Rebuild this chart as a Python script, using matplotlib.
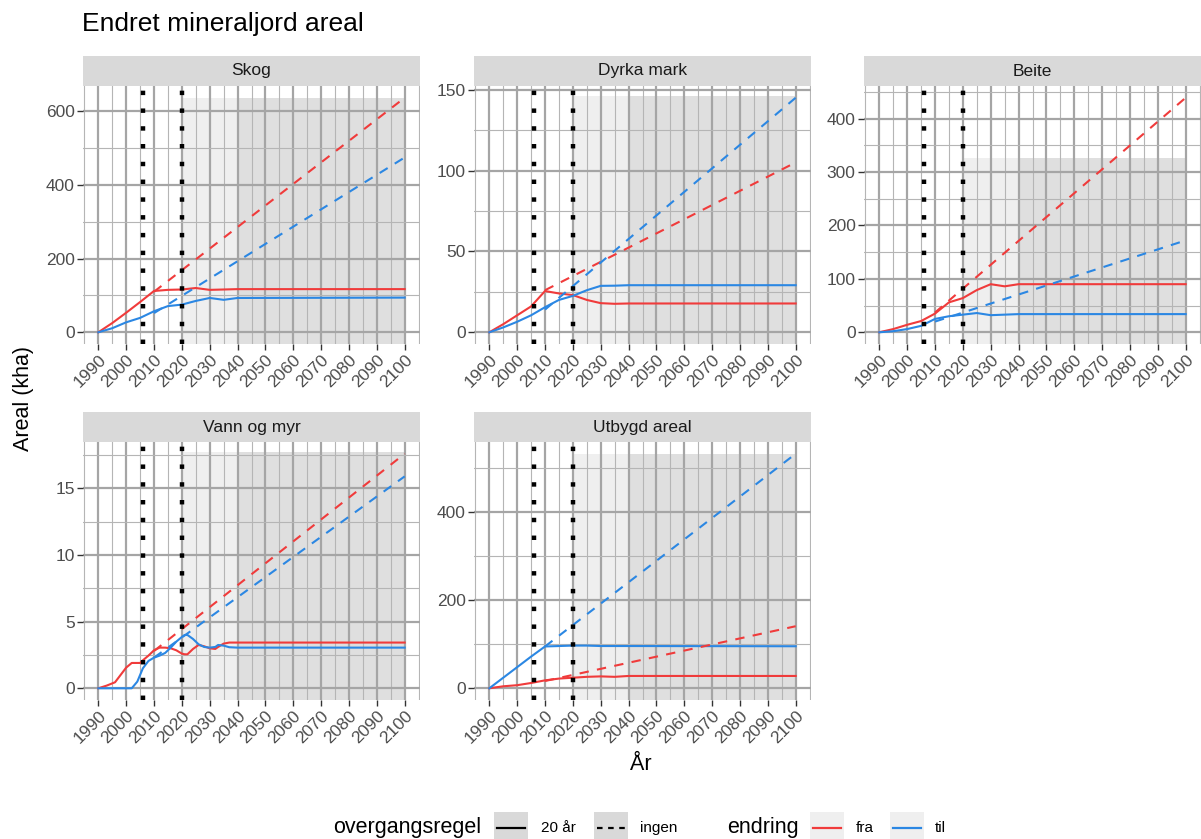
import matplotlib.pyplot as plt
from matplotlib.ticker import MultipleLocator, FixedLocator
from matplotlib.patches import Rectangle
import numpy as np

plt.rcParams['font.family'] = ['Liberation Sans', 'DejaVu Sans']

# ---- data (kha) ----
panels = ['Skog', 'Dyrka mark', 'Beite', 'Vann og myr', 'Utbygd areal']

yr_5 = [1990, 1995, 2000, 2005, 2010, 2015, 2020, 2025, 2030, 2035, 2040, 2100]
yr_vann = [1990, 1993, 1996, 1998, 2000, 2002, 2004, 2005, 2006, 2008, 2010, 2012,
           2014, 2016, 2018, 2020, 2021, 2022, 2024, 2026, 2028, 2030, 2032, 2033,
           2035, 2037, 2040, 2100]
yr_ingen = [2010, 2100]
vlines = [2006, 2020]

skog_fra = [0, 25, 53, 82, 112, 115, 116, 120, 115, 116, 117, 117]
skog_til = [0, 11, 27, 39, 57, 71, 75, 85, 93, 88, 93, 94]
skog_fra_ingen = [110, 636]
skog_til_ingen = [52, 474]

dyrka_fra = [0, 5, 10.5, 16, 25.5, 24, 23, 20, 18, 17.6, 17.8, 17.8]
dyrka_til = [0, 3, 6.5, 10.5, 15.5, 20, 22.5, 26, 28.7, 28.8, 29.1, 29.1]
dyrka_fra_ingen = [26, 105]
dyrka_til_ingen = [14, 145]

beite_fra = [0, 6, 14, 21, 35, 56, 64, 79, 90, 86, 90, 90]
beite_til = [0, 2, 6, 12, 25, 30, 33, 36, 32, 33, 34, 34]
beite_fra_ingen = [37, 439]
beite_til_ingen = [20, 172]

vann_fra = [0, 0.2, 0.45, 1.0, 1.55, 1.9, 1.9, 1.9, 2.1, 2.45, 2.85, 3.05,
            3.05, 3.0, 2.85, 2.6, 2.55, 2.55, 2.95, 3.25, 3.15, 3.0, 2.95, 3.1,
            3.35, 3.43, 3.43, 3.43]
vann_til = [0, 0, 0, 0, 0, 0, 0.5, 1.0, 1.5, 2.05, 2.3, 2.45,
            2.65, 3.05, 3.5, 3.85, 4.0, 4.0, 3.7, 3.3, 3.1, 3.05, 3.1, 3.25,
            3.2, 3.08, 3.05, 3.05]
vann_fra_ingen = [2.8, 17.6]
vann_til_ingen = [2.3, 15.9]

utb_fra = [0, 4.5, 7, 12, 18, 22, 24, 26, 27, 26, 28, 28]
utb_til = [0, 24, 48, 72, 95, 96, 97, 97, 96, 96, 96, 95.5]
utb_fra_ingen = [16.5, 141]
utb_til_ingen = [95, 533]

shade_top = [636, 146, 327, 17.7, 533]
y_major = [200, 50, 100, 5, 200]

series = [
    (yr_5, skog_fra, skog_til, skog_fra_ingen, skog_til_ingen),
    (yr_5, dyrka_fra, dyrka_til, dyrka_fra_ingen, dyrka_til_ingen),
    (yr_5, beite_fra, beite_til, beite_fra_ingen, beite_til_ingen),
    (yr_vann, vann_fra, vann_til, vann_fra_ingen, vann_til_ingen),
    (yr_5, utb_fra, utb_til, utb_fra_ingen, utb_til_ingen),
]

RED = '#f03b3b'
BLUE = '#2b87e3'
W, H = 1201, 839

fig = plt.figure(figsize=(W / 100, H / 100), dpi=100)


def fx(px):
    return px / W


def fy(py):
    return 1 - py / H


lefts = [83, 474, 864]
tops = [86, 442]
pw, ph = 337, 258
strip_h = 30

for i, name in enumerate(panels):
    r, c = divmod(i, 3)
    x0, y0 = lefts[c], tops[r]
    ax = fig.add_axes([fx(x0), fy(y0 + ph), pw / W, ph / H])
    yrs, fra, til, fra_i, til_i = series[i]

    vmax = max(max(fra), max(til), max(fra_i), max(til_i))
    vmin = 0
    pad = 0.05 * (vmax - vmin)
    ylo, yhi = vmin - pad, vmax + pad
    ax.set_ylim(ylo, yhi)
    ax.set_xlim(1984.5, 2105.5)

    ax.set_axisbelow(True)
    ax.fill_between([2020, 2100], ylo, shade_top[i], color='#efefef', lw=0, zorder=0.1)
    ax.fill_between([2040, 2100], ylo, shade_top[i], color='#dfdfdf', lw=0, zorder=0.2)

    ax.plot(yrs, fra, color=RED, lw=1.5, zorder=3)
    ax.plot(yrs, til, color=BLUE, lw=1.5, zorder=3)
    ax.plot(yr_ingen, fra_i, color=RED, lw=1.5, ls=(0, (4.5, 4)), zorder=3)
    ax.plot(yr_ingen, til_i, color=BLUE, lw=1.5, ls=(0, (4.5, 4)), zorder=3)

    for xv in vlines:
        ax.axvline(xv, color='black', lw=3.2, ls=(0, (1, 3.0)),
                   dash_capstyle='butt', zorder=4)

    ax.xaxis.set_major_locator(FixedLocator(np.arange(1990, 2101, 10)))
    ax.xaxis.set_minor_locator(FixedLocator(np.arange(1985, 2106, 10)))
    ax.yaxis.set_major_locator(MultipleLocator(y_major[i]))
    ax.yaxis.set_minor_locator(MultipleLocator(y_major[i] / 2))
    ax.grid(which='major', color='#a5a5a5', lw=1.6)
    ax.grid(which='minor', color='#b5b5b5', lw=0.8)
    ax.set_facecolor('white')
    for s in ax.spines.values():
        s.set_visible(False)
    ax.tick_params(which='major', length=4, width=1, color='#333333',
                   labelcolor='#4d4d4d', labelsize=12.5, pad=2)
    ax.tick_params(which='minor', length=0)
    ax.set_xticklabels([str(v) for v in range(1990, 2101, 10)],
                       rotation=45, ha='right', va='top', rotation_mode='anchor')
    if vmax < 50:
        ax.set_yticklabels([f'{v:g}' for v in ax.get_yticks()])

    sax = fig.add_axes([fx(x0), fy(y0), pw / W, strip_h / H])
    sax.set_facecolor('#d9d9d9')
    sax.set_xticks([])
    sax.set_yticks([])
    for s in sax.spines.values():
        s.set_visible(False)
    sax.text(0.5, 0.5, name, ha='center', va='center', fontsize=12.5,
             color='#1a1a1a', transform=sax.transAxes)

fig.text(fx(82), fy(24), 'Endret mineraljord areal', fontsize=19,
         ha='left', va='center', color='black')
fig.text(fx(24), fy(398), 'Areal (kha)', fontsize=15.5, rotation=90,
         ha='center', va='center')
fig.text(fx(641), fy(764), 'År', fontsize=15.5, ha='center', va='center')

# legend drawn in pixel space
lax = fig.add_axes([0, 0, 1, 1])
lax.set_xlim(0, W)
lax.set_ylim(H, 0)
lax.axis('off')
ly = 828
lax.text(333, ly, 'overgangsregel', fontsize=15.5, ha='left', va='center')
lax.text(727, ly, 'endring', fontsize=15.5, ha='left', va='center')
keys = [
    (494, '#d9d9d9', 'black', '-', '20 år', 541),
    (594, '#d9d9d9', 'black', (0, (2.5, 2.5)), 'ingen', 640),
    (810, '#efefef', RED, '-', 'fra', 856),
    (890, '#efefef', BLUE, '-', 'til', 935),
]
for kx, bg, col, ls, lab, tx in keys:
    lax.add_patch(Rectangle((kx, 812), 34, 29, color=bg, lw=0))
    lax.plot([kx + 3, kx + 31], [ly, ly], color=col, lw=1.6, ls=ls)
    lax.text(tx, ly, lab, fontsize=11, ha='left', va='center')

fig.savefig('out.png', dpi=100)
